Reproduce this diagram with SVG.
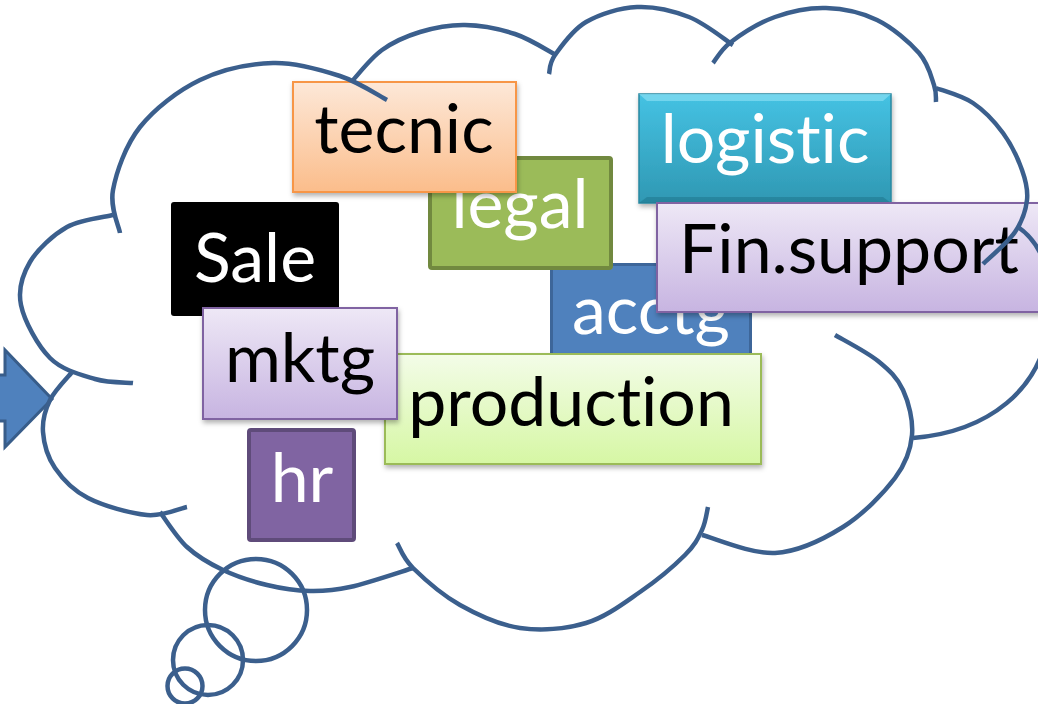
<svg xmlns="http://www.w3.org/2000/svg" width="1038" height="704" viewBox="0 0 1038 704">
<style>
.lbl{font-family:Lato,"Open Sans","Liberation Sans",sans-serif;font-size:68px;text-anchor:middle;font-variant-ligatures:none;font-feature-settings:"liga" 0,"clig" 0}
.w{fill:#ffffff}
.k{fill:#000000}
.cl{fill:none;stroke:#3B5F8D;stroke-width:4.5;stroke-linecap:butt}
</style>
<defs>
<linearGradient id="gPeach" x1="0" y1="0" x2="0" y2="1"><stop offset="0" stop-color="#FDE8D8"/><stop offset="1" stop-color="#FBBD8B"/></linearGradient>
<linearGradient id="gLav" x1="0" y1="0" x2="0" y2="1"><stop offset="0" stop-color="#EEE8F6"/><stop offset="1" stop-color="#C7B4E1"/></linearGradient>
<linearGradient id="gLime" x1="0" y1="0" x2="0" y2="1"><stop offset="0" stop-color="#F3FCE8"/><stop offset="1" stop-color="#D6F7A4"/></linearGradient>
<linearGradient id="gTeal" x1="0" y1="0" x2="0" y2="1"><stop offset="0" stop-color="#45C2E3"/><stop offset="1" stop-color="#2F98B3"/></linearGradient>
<filter id="sh" x="-10%" y="-10%" width="120%" height="130%"><feDropShadow dx="1" dy="3" stdDeviation="2.5" flood-color="#000" flood-opacity="0.3"/></filter>
</defs>

<g id="arrow">
<polygon points="-20,375 5,375 5,350 52,399 5,447 5,421 -20,421" fill="#4F81BD" stroke="#385D8A" stroke-width="3"/>
</g>

<g id="node-sale">
<rect x="171" y="202" width="168" height="114" rx="3" fill="#000"/>
<text class="lbl w" x="255" y="282">Sale</text>
</g>
<g id="node-acctg">
<rect x="551.5" y="264.5" width="199" height="95" fill="#4F81BD" stroke="#3D6699" stroke-width="3"/>
<text class="lbl w" x="651" y="334">acctg</text>
</g>
<g id="node-legal">
<rect x="430" y="158" width="181" height="110" rx="2" fill="#9BBB59" stroke="#71893F" stroke-width="4"/>
<text class="lbl w" x="520" y="228">legal</text>
</g>
<g id="node-tecnic">
<rect x="293" y="82" width="223" height="110" fill="url(#gPeach)" stroke="#F79646" stroke-width="2" filter="url(#sh)"/>
<text class="lbl k" x="404" y="153">tecnic</text>
</g>
<g id="node-logistic">
<rect x="639" y="94" width="252" height="109" fill="url(#gTeal)" stroke="#2A88A1" stroke-width="1.5" filter="url(#sh)"/>
<polygon points="639,94 891,94 883,101 647,101" fill="#7ED9F0" opacity="0.8"/>
<polygon points="639,203 891,203 883,197 647,197" fill="#1F7A91" opacity="0.6"/>
<text class="lbl w" x="765" y="163">logistic</text>
</g>
<g id="node-finsupport">
<rect x="657" y="203" width="400" height="109" fill="url(#gLav)" stroke="#8064A2" stroke-width="2" filter="url(#sh)"/>
<text class="lbl k" x="679" y="273" style="text-anchor:start">Fin.support</text>
</g>
<g id="node-production">
<rect x="385" y="354" width="376" height="110" fill="url(#gLime)" stroke="#9BBB59" stroke-width="2" filter="url(#sh)"/>
<text class="lbl k" x="571" y="426">production</text>
</g>
<g id="node-mktg">
<rect x="203" y="308" width="194" height="111" fill="url(#gLav)" stroke="#8064A2" stroke-width="2" filter="url(#sh)"/>
<text class="lbl k" x="300" y="382">mktg</text>
</g>
<g id="node-hr">
<rect x="249" y="430" width="105" height="110" rx="2" fill="#8064A2" stroke="#5F4B7A" stroke-width="4"/>
<text class="lbl w" x="302" y="502">hr</text>
</g>

<g id="cloud">
<path class="cl" d="M120,233 C118.8,225.8 109.7,207.7 113,190 C116.3,172.3 125.5,145.3 140,127 C154.5,108.7 177.8,90.7 200,80 C222.2,69.3 249.7,63.7 273,63 C296.3,62.3 321,69.8 340,76 C359,82.2 379.2,96 387,100"/>
<path class="cl" d="M353,80 C357.8,75 370.8,58 382,50 C393.2,42 406.2,36.2 420,32 C433.8,27.8 449.2,24.7 465,25 C480.8,25.3 499.8,29 515,34 C530.2,39 549.2,51.5 556,55"/>
<path class="cl" d="M549,74 C550,70.8 548.8,63.7 555,55 C561.2,46.3 572.3,30 586,22 C599.7,14 619.8,7.8 637,7 C654.2,6.2 673,10.7 689,17 C705,23.3 725.7,40.3 733,45"/>
<path class="cl" d="M713,63 C716,59.5 720.7,49.7 731,42 C741.3,34.3 759.2,22.7 775,17 C790.8,11.3 809,7.5 826,8 C843,8.5 861.5,12.5 877,20 C892.5,27.5 909.5,42.2 919,53 C928.5,63.8 931.2,76.8 934,85 C936.8,93.2 935.7,99.2 936,102"/>
<path class="cl" d="M936,88 C942.2,90.5 961.8,95.5 973,103 C984.2,110.5 994.8,121.8 1003,133 C1011.2,144.2 1018,158.8 1022,170 C1026,181.2 1028.2,189.7 1027,200 C1025.8,210.3 1022.3,221.3 1015,232 C1007.7,242.7 988.3,258.7 983,264"/>
<path class="cl" d="M913,438 C985,432 1045,392 1050,315 C1055,275 1040,242 1018,227"/>
<path class="cl" d="M702,535 C714.2,538 751.5,554.3 775,553 C798.5,551.7 823,539.5 843,527 C863,514.5 883.5,493.3 895,478 C906.5,462.7 910.7,449.7 912,435 C913.3,420.3 908.7,402.3 903,390 C897.3,377.7 889.3,370.2 878,361 C866.7,351.8 842.2,339.3 835,335"/>
<path class="cl" d="M397,543 C399.7,547.2 402.5,557.7 413,568 C423.5,578.3 442.2,595 460,605 C477.8,615 499,625 520,628 C541,631 566,629 586,623 C606,617 623.5,603.3 640,592 C656.5,580.7 674.7,565.3 685,555 C695.3,544.7 698.2,538 702,530 C705.8,522 707,510.8 708,507"/>
<path class="cl" d="M160,512 C164.5,517.8 176.5,537.3 187,547 C197.5,556.7 209.7,563.7 223,570 C236.3,576.3 252.5,581.5 267,585 C281.5,588.5 296.2,590.7 310,591 C323.8,591.3 332.8,590.8 350,587 C367.2,583.2 402.5,571.2 413,568"/>
<path class="cl" d="M73,371 C69.2,375.8 55,389.8 50,400 C45,410.2 42.2,420.7 43,432 C43.8,443.3 47.5,457 55,468 C62.5,479 72.7,490.2 88,498 C103.3,505.8 130.5,513.5 147,515 C163.5,516.5 180.3,508.3 187,507"/>
<path class="cl" d="M113,215 C105.3,217 80.8,219.2 67,227 C53.2,234.8 37.7,249 30,262 C22.3,275 17.7,289 21,305 C24.3,321 37.7,345.7 50,358 C62.3,370.3 81.2,374.8 95,379 C108.8,383.2 126.7,382.3 133,383"/>
<circle class="cl" cx="256" cy="610" r="51"/>
<circle class="cl" cx="208" cy="660" r="35"/>
<circle class="cl" cx="185" cy="686" r="17.5"/>
</g>
</svg>
